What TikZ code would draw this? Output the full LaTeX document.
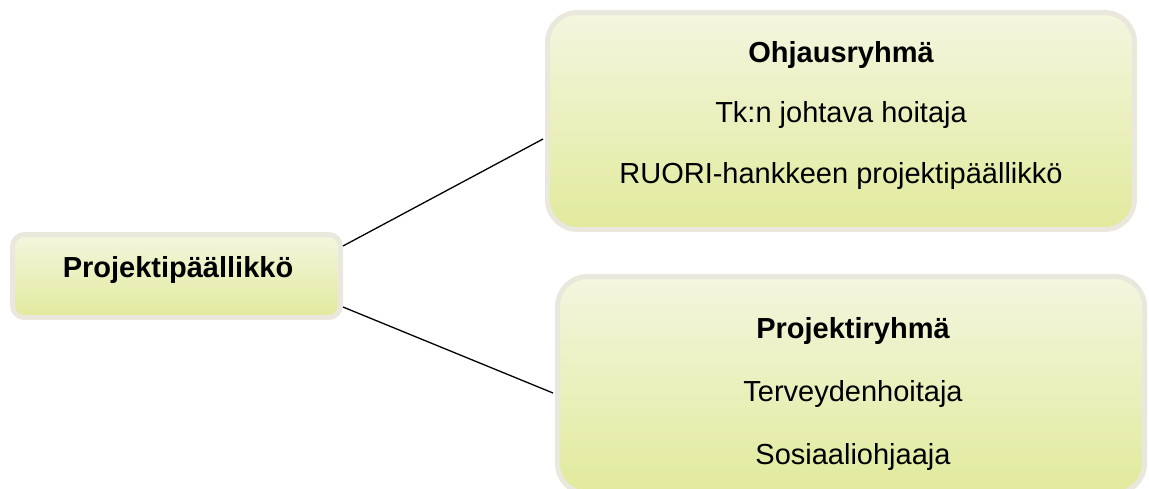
\documentclass[tikz,border=0pt]{standalone}
\usepackage{fontspec}
\setmainfont{Liberation Sans}
\usepackage{xcolor}

\definecolor{boxtop}{HTML}{F4F6DF}
\definecolor{boxbottom}{HTML}{E1EA9C}
\definecolor{boxrim}{HTML}{EAE8DD}

\tikzset{
  box/.style={draw=boxrim, line width=5pt, rounded corners=#1,
    top color=boxtop, bottom color=boxbottom, inner sep=0pt},
  boxtext/.style={anchor=base, inner sep=0pt, font=\fontsize{29}{35}\selectfont},
  boxtitle/.style={boxtext, font=\fontsize{29}{35}\selectfont\bfseries},
  link/.style={line width=1.3pt, black}
}

\begin{document}
\begin{tikzpicture}[x=1pt,y=-1pt]
        \useasboundingbox (0,0) rectangle (1149,488);

        % Boxes
        \node[box=12pt, minimum width=328pt, minimum height=83pt] (pm) at (176.5,276) {};
        \node[box=30pt, minimum width=587pt, minimum height=217pt] (ohj) at (841,121) {};
        \node[box=30pt, minimum width=587pt, minimum height=217pt] (proj) at (851,385) {};

        % Connectors
        \draw[link] ([yshift=30pt]pm.east) -- ([xshift=-2pt,yshift=-18pt]ohj.west);
        \draw[link] ([yshift=-31pt]pm.east) -- ([xshift=-2pt,yshift=-8pt]proj.west);

        % Box texts
        \node[boxtitle] (pmtext) at (178,277) {Projektipäällikkö};

        \node[boxtitle] (ohjtitle) at (841,62) {Ohjausryhmä};
        \node[boxtext] (ohjone) at (841,122.5) {Tk:n johtava hoitaja};
        \node[boxtext] (ohjtwo) at (841,183) {RUORI-hankkeen projektipäällikkö};

        \node[boxtitle] (projtitle) at (853,338) {Projektiryhmä};
        \node[boxtext] (projone) at (853,401) {Terveydenhoitaja};
        \node[boxtext] (projtwo) at (853,464) {Sosiaaliohjaaja};

\end{tikzpicture}
\end{document}
